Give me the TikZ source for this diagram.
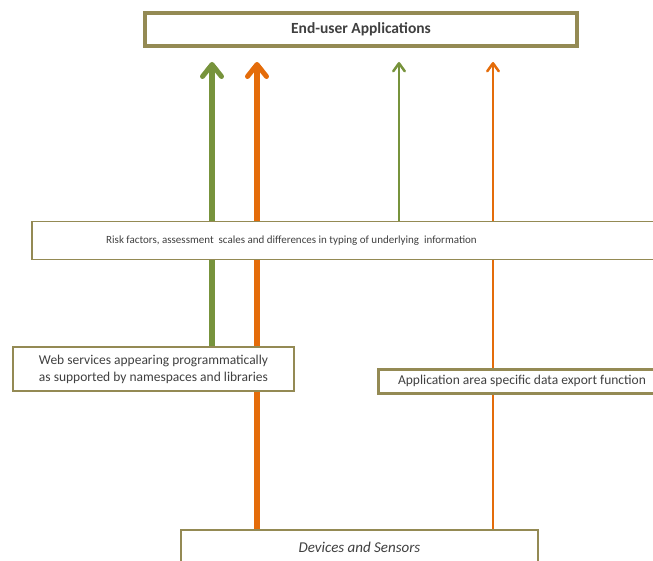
\documentclass[tikz,border=0pt]{standalone}
\usepackage{fontspec}
\setmainfont{Carlito}
\usetikzlibrary{arrows.meta,backgrounds}
\definecolor{boxline}{HTML}{948A54}
\definecolor{flowgreen}{HTML}{77933C}
\definecolor{floworange}{HTML}{E46C0A}
\definecolor{txt}{HTML}{404040}
\tikzset{
  panel/.style={draw=boxline, fill=white, text=txt, inner sep=0pt},
  bigflow/.style={line width=5.5pt, -{Straight Barb[length=12pt, width=19pt, line width=5pt, round]}},
  smallflow/.style={line width=2.6pt, -{Straight Barb[length=8pt, width=11.5pt, line width=2.5pt, round]}},
}
\begin{document}
\begin{tikzpicture}[x=1pt, y=-1pt]
\useasboundingbox (0,0) rectangle (653,561);

% panels
\node[panel, line width=4pt, minimum width=432pt, minimum height=33pt,
      font=\fontsize{15.5}{18}\selectfont\bfseries] (apps) at (361,29.5) {End-user Applications};
\node[panel, line width=1.4pt, minimum width=622pt, minimum height=38pt,
      label={[text=txt, font=\fontsize{11}{13}\selectfont, xshift=-51.5pt, yshift=-0.5pt]center:%
        Risk factors, assessment\ \ scales and differences in typing of underlying\ \ information}]
  (risk) at (343,240.5) {};
\node[panel, line width=2pt, minimum width=281pt, minimum height=44pt, align=left,
      font=\fontsize{13.5}{17}\selectfont] (web) at (153.5,369)
  {Web services appearing programmatically\\as supported by namespaces and libraries};
\node[panel, line width=3pt, minimum width=288pt, minimum height=24pt,
      font=\fontsize{13.5}{16}\selectfont] (export) at (522,381)
  {Application area specific data export function};
\node[panel, line width=2pt, minimum width=357pt, minimum height=34pt,
      font=\fontsize{15}{18}\selectfont\itshape] (dev) at (359.5,547)
  {Devices and Sensors};

% columns of the data flows
\coordinate (g1) at (212,0);
\coordinate (o1) at (257,0);
\coordinate (g2) at (399,0);
\coordinate (o2) at (493,0);

% data flows, behind the panels
\begin{scope}[on background layer]
  \draw[bigflow, flowgreen]    (web.north -| g1)  -- ([yshift=-14pt]apps.south -| g1);
  \draw[bigflow, floworange]   (dev.north -| o1)  -- ([yshift=-14pt]apps.south -| o1);
  \draw[smallflow, flowgreen]  (risk.north -| g2) -- ([yshift=-14pt]apps.south -| g2);
  \draw[smallflow, floworange] (dev.north -| o2)  -- ([yshift=-14pt]apps.south -| o2);
\end{scope}
\end{tikzpicture}
\end{document}
